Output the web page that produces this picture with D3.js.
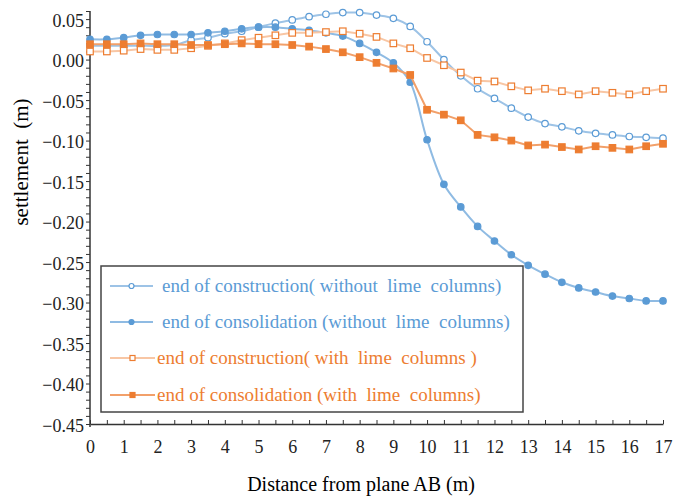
<!DOCTYPE html>
<html>
<head>
<meta charset="utf-8">
<script src="https://cdn.jsdelivr.net/npm/d3@7"></script>
<style>
  body { margin: 0; background: #fff; }
  text { font-family: "Liberation Serif", "Times New Roman", serif; }
</style>
</head>
<body>
<div id="chart"></div>
<script>
// distances every 0.5 m from plane AB
const distances = d3.range(0, 17.01, 0.5);

// settlement (m)
const constructionNoLime = [0.017, 0.017, 0.017, 0.017, 0.017, 0.018, 0.024, 0.027, 0.032, 0.035,
  0.040, 0.045, 0.049, 0.053, 0.056, 0.058, 0.058, 0.055, 0.051, 0.041,
  0.022, 0.000, -0.020, -0.036, -0.048, -0.060, -0.071, -0.079, -0.083, -0.088,
  -0.091, -0.093, -0.095, -0.096, -0.097];
const consolidationNoLime = [0.025, 0.025, 0.027, 0.030, 0.031, 0.031, 0.031, 0.033, 0.035, 0.038,
  0.040, 0.040, 0.038, 0.036, 0.033, 0.029, 0.020, 0.009, -0.004, -0.028,
  -0.099, -0.154, -0.182, -0.206, -0.224, -0.241, -0.254, -0.265, -0.275, -0.282,
  -0.287, -0.292, -0.295, -0.298, -0.298];
const constructionLime = [0.010, 0.010, 0.011, 0.013, 0.012, 0.012, 0.014, 0.017, 0.020, 0.024,
  0.027, 0.030, 0.033, 0.033, 0.034, 0.035, 0.032, 0.028, 0.020, 0.014,
  0.002, -0.007, -0.016, -0.026, -0.027, -0.033, -0.038, -0.036, -0.039, -0.043,
  -0.039, -0.041, -0.043, -0.039, -0.036];
const consolidationLime = [0.019, 0.019, 0.019, 0.020, 0.019, 0.019, 0.018, 0.018, 0.019, 0.020,
  0.019, 0.019, 0.018, 0.016, 0.013, 0.009, 0.003, -0.004, -0.011, -0.019,
  -0.062, -0.068, -0.075, -0.093, -0.096, -0.100, -0.106, -0.105, -0.108, -0.111,
  -0.107, -0.109, -0.111, -0.107, -0.104];

const seriesNames = [
  "end of construction( without  lime  columns)",
  "end of consolidation (without  lime  columns)",
  "end of construction( with  lime  columns )",
  "end of consolidation (with  lime  columns)"
];

const xTicks = d3.range(0, 18, 1);
const yTicks = d3.range(-0.45, 0.051, 0.05).map(v => +v.toFixed(2));

const series = [
  { name: seriesNames[0], values: constructionNoLime, line: "#9dc3e6", mark: "#5b9bd5", text: "#5b9bd5", shape: "circle", filled: false, smooth: true },
  { name: seriesNames[1], values: consolidationNoLime, line: "#8fbbe3", mark: "#5b9bd5", text: "#5b9bd5", shape: "circle", filled: true, smooth: true },
  { name: seriesNames[2], values: constructionLime, line: "#f8c6a4", mark: "#ed7d31", text: "#ed7d31", shape: "square", filled: false, smooth: false },
  { name: seriesNames[3], values: consolidationLime, line: "#f2a06a", mark: "#ed7d31", text: "#ed7d31", shape: "square", filled: true, smooth: false }
];

const W = 681, H = 499;
const svg = d3.select("#chart").append("svg")
  .attr("width", W)
  .attr("height", H);

const x = d3.scaleLinear().domain([0, 17]).range([90, 663]);
const y = d3.scaleLinear().domain([-0.45, 0.06]).range([424, 11]);

// y axis: minor ticks every 0.01, labels every 0.05
svg.append("g")
  .attr("transform", "translate(90,0)")
  .call(d3.axisLeft(y).tickValues(d3.range(-0.45, 0.061, 0.01)).tickSize(4).tickFormat(""))
  .call(g => g.select(".domain").remove())
  .selectAll("line").attr("stroke", "#333");

svg.append("g")
  .attr("transform", "translate(90,0)")
  .call(d3.axisLeft(y).tickValues(yTicks).tickSize(0).tickPadding(6).tickFormat(d3.format(".2f")))
  .call(g => g.select(".domain").remove())
  .selectAll("text")
  .attr("dy", "0.4em")
  .style("font-size", "18px")
  .style("fill", "#222");

svg.append("line")
  .attr("x1", 90).attr("x2", 90)
  .attr("y1", y(0.06)).attr("y2", 427)
  .attr("stroke", "#333").attr("stroke-width", 1.5);

// x axis: ticks pointing up every 0.5
svg.append("g")
  .attr("transform", "translate(0,424)")
  .call(d3.axisBottom(x).tickValues(d3.range(0, 17.01, 0.5)).tickSizeInner(-4).tickSizeOuter(0).tickFormat(""))
  .call(g => g.select(".domain").attr("stroke", "#333").attr("stroke-width", 1.5))
  .selectAll("line").attr("stroke", "#333");

svg.append("g")
  .attr("transform", "translate(0,424)")
  .call(d3.axisBottom(x).tickValues(xTicks).tickSize(0).tickPadding(16))
  .call(g => g.select(".domain").remove())
  .selectAll("text")
  .style("font-size", "18px")
  .style("fill", "#222");

// axis titles
svg.append("text")
  .attr("transform", "translate(28,162) rotate(-90)")
  .attr("text-anchor", "middle")
  .style("font-size", "21px")
  .style("white-space", "pre")
  .text("settlement  (m)");

svg.append("text")
  .attr("x", 361)
  .attr("y", 491)
  .attr("text-anchor", "middle")
  .style("font-size", "20px")
  .text("Distance from plane AB (m)");

// lines and markers
function drawMarker(g, s, cx, cy, size) {
  if (s.shape === "circle") {
    g.append("circle")
      .attr("cx", cx).attr("cy", cy).attr("r", size / 2)
      .attr("fill", s.filled ? s.mark : "#fff")
      .attr("stroke", s.mark).attr("stroke-width", 1.2);
  } else {
    g.append("rect")
      .attr("x", cx - size / 2).attr("y", cy - size / 2)
      .attr("width", size).attr("height", size)
      .attr("fill", s.filled ? s.mark : "#fff")
      .attr("stroke", s.mark).attr("stroke-width", 1.2);
  }
}

series.forEach(s => {
  const pts = distances.map((d, i) => [d, s.values[i]]);
  const line = d3.line()
    .x(d => x(d[0]))
    .y(d => y(d[1]))
    .curve(s.smooth ? d3.curveCatmullRom.alpha(0.5) : d3.curveLinear);

  const g = svg.append("g");
  g.append("path")
    .attr("d", line(pts))
    .attr("fill", "none")
    .attr("stroke", s.line)
    .attr("stroke-width", 2);

  pts.forEach(p => drawMarker(g, s, x(p[0]), y(p[1]), 6.5));
});

// legend
const legend = svg.append("g");
legend.append("rect")
  .attr("x", 101).attr("y", 266)
  .attr("width", 422).attr("height", 146)
  .attr("fill", "#fff")
  .attr("stroke", "#444").attr("stroke-width", 1.5);

const rowY = [286, 322, 358, 395];
series.forEach((s, i) => {
  const yy = rowY[i];
  const x2 = s.shape === "circle" ? 153 : 155;
  legend.append("line")
    .attr("x1", 110).attr("x2", x2)
    .attr("y1", yy).attr("y2", yy)
    .attr("stroke", s.line).attr("stroke-width", 2);
  drawMarker(legend, s, (110 + x2) / 2, yy, 5);
  legend.append("text")
    .attr("x", s.shape === "circle" ? 162 : 157)
    .attr("y", yy + 6)
    .style("font-size", "19px")
    .style("white-space", "pre")
    .style("fill", s.text)
    .text(s.name);
});
</script>
</body>
</html>
